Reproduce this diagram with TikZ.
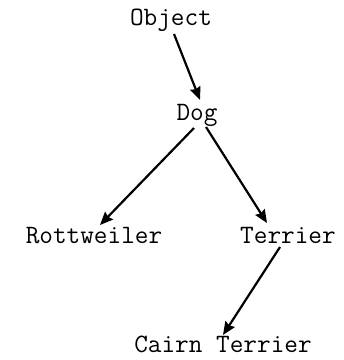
\documentclass[tikz,border=0pt]{standalone}
\usetikzlibrary{arrows.meta,calc}
\begin{document}
\begin{tikzpicture}[x=1pt,y=-1pt,
  lbl/.style={font=\ttfamily\fontsize{26.5}{30}\selectfont,inner sep=0pt,anchor=base},
  arr/.style={line width=2.2pt,-{Stealth[length=13pt,width=11pt,inset=1.5pt]}}]
\useasboundingbox (0,0) rectangle (344,360);
\node[lbl] (obj) at (171,25) {Object};
\node[lbl] (dog) at (197,120) {Dog};
\node[lbl] (rott) at (94,243) {Rottweiler};
\node[lbl] (terr) at (288,243) {Terrier};
\node[lbl] (cairn) at (223,352) {Cairn Terrier};
\draw[arr] ($(obj.base)+(3,9)$) -- ($(dog.base)+(3,-20)$);
\draw[arr] ($(dog.base)+(-3,8)$) -- ($(rott.base)+(6,-18)$);
\draw[arr] ($(dog.base)+(9,7)$) -- ($(terr.base)+(-21,-20)$);
\draw[arr] ($(terr.base)+(-8,4)$) -- ($(cairn.base)+(0,-17)$);
\end{tikzpicture}
\end{document}
